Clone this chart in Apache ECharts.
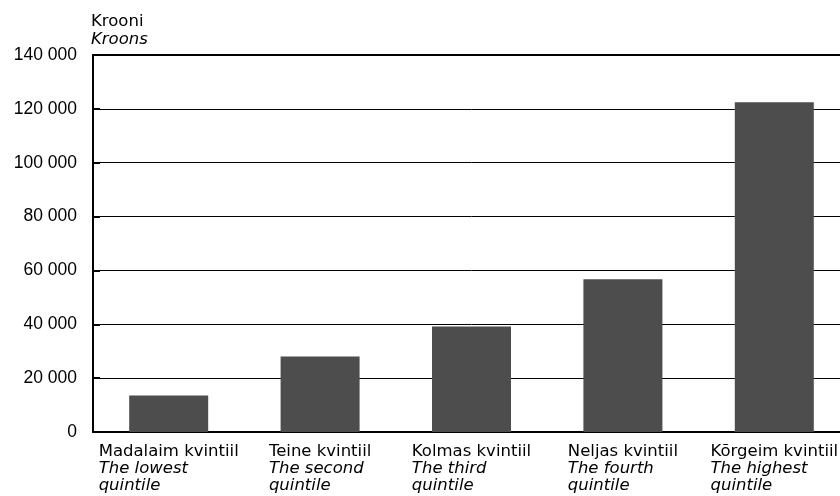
<!DOCTYPE html>
<html>
<head>
<meta charset="utf-8">
<script src="https://cdn.jsdelivr.net/npm/echarts@6/dist/echarts.min.js"></script>
<style>
  html, body { margin: 0; padding: 0; background: #fff; overflow: hidden; }
  /* plot area runs past the right edge of the picture, so the canvas is a bit wider */
  #chart { width: 850px; height: 496px; }
</style>
</head>
<body>
<div id="chart"></div>
<script>
// kategooriad (eesti keeles) ja ingliskeelsed tõlked
const categoriesEt = ['Madalaim kvintiil', 'Teine kvintiil', 'Kolmas kvintiil', 'Neljas kvintiil', 'Kõrgeim kvintiil'];
const categoriesEn = ['The lowest', 'The second', 'The third', 'The fourth', 'The highest'];
const values = [13600, 28000, 39200, 56700, 122500];
const yTicks = [0, 20000, 40000, 60000, 80000, 100000, 120000, 140000];

document.addEventListener('DOMContentLoaded', function () {
    const chartDom = document.getElementById('chart');
    const myChart = echarts.init(chartDom);
    const font = '"DejaVu Sans", sans-serif';
    const numFont = '"Liberation Sans", Arial, sans-serif';

    const option = {
        backgroundColor: '#fff',
        animation: false,
        textStyle: { fontFamily: font },
        grid: {
            left: 93,
            top: 55,
            right: 0,
            bottom: 64
        },
        xAxis: [
            {
                type: 'category',
                data: categoriesEt.map(function (c, i) { return i; }),
                axisLine: { lineStyle: { color: '#000', width: 2 } },
                axisTick: { show: false },
                axisLabel: {
                    interval: 0,
                    margin: 11,
                    align: 'center',
                    fontFamily: font,
                    formatter: function (v, i) {
                        return '{a|' + categoriesEt[i] + '}\n{b|' + categoriesEn[i] + '}\n{b|quintile}';
                    },
                    rich: {
                        a: { fontSize: 16.5, lineHeight: 17, color: '#000', align: 'left', fontFamily: font },
                        b: { fontSize: 16.5, lineHeight: 17, color: '#000', align: 'left', fontStyle: 'italic', fontFamily: font }
                    }
                }
            },
            {
                // ülemine raamijoon
                type: 'category',
                position: 'top',
                data: categoriesEt.map(function (c, i) { return i; }),
                axisLine: { show: true, lineStyle: { color: '#000', width: 2 } },
                axisTick: { show: false },
                axisLabel: { show: false }
            }
        ],
        yAxis: {
            type: 'value',
            min: 0,
            max: yTicks[yTicks.length - 1],
            interval: 20000,
            name: '{a|Krooni}\n{b|Kroons}',
            nameLocation: 'end',
            nameGap: 6,
            nameTextStyle: {
                align: 'left',
                verticalAlign: 'bottom',
                padding: [0, 0, 0, -2],
                rich: {
                    a: { fontSize: 16.5, lineHeight: 18, color: '#000', fontFamily: font },
                    b: { fontSize: 16.5, lineHeight: 18, color: '#000', fontStyle: 'italic', fontFamily: font }
                }
            },
            axisLine: { show: true, lineStyle: { color: '#000', width: 2 } },
            axisTick: { show: true, inside: true, length: 7, lineStyle: { color: '#000', width: 2 } },
            axisLabel: {
                color: '#000',
                fontSize: 17.5,
                margin: 16,
                fontFamily: numFont,
                formatter: function (v) {
                    return String(v).replace(/\B(?=(\d{3})+(?!\d))/g, ' ');
                }
            },
            splitLine: { show: true, lineStyle: { color: '#000', width: 1 } }
        },
        series: [
            {
                type: 'bar',
                data: values,
                barWidth: 79,
                itemStyle: { color: '#4d4d4d' }
            }
        ]
    };

    myChart.setOption(option);
});
</script>
</body>
</html>
